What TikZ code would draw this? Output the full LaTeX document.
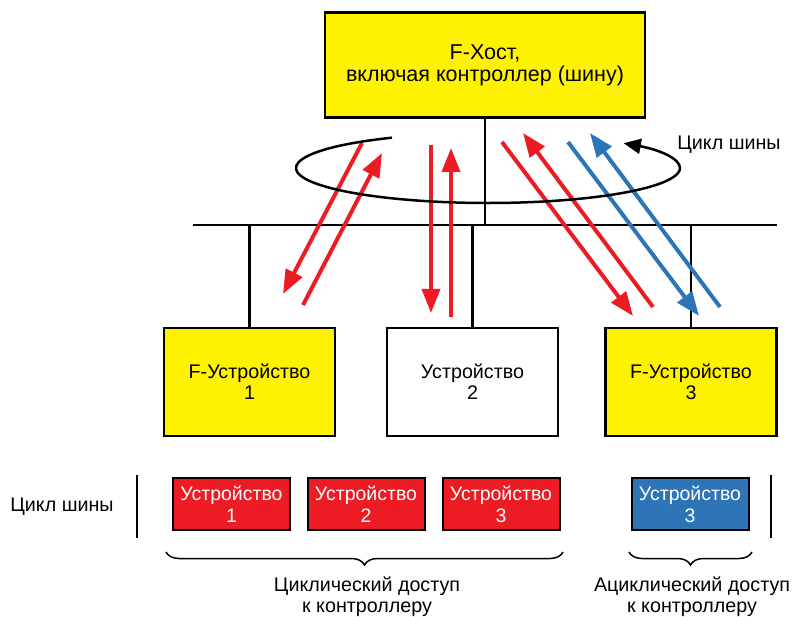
\documentclass[tikz,border=0pt]{standalone}
\usepackage{fontspec}
\setmainfont{Liberation Sans}
\usetikzlibrary{arrows.meta, decorations.pathreplacing}

\definecolor{fyellow}{RGB}{255,242,0}
\definecolor{cycred}{RGB}{237,28,36}
\definecolor{acycblue}{RGB}{46,117,184}

\begin{document}
\begin{tikzpicture}[%
        x = 1pt, y = -1pt,
        > = {Triangle[length = 24pt, width = 18pt]},
        every node/.style = {font = \fontsize{19.7}{21}\selectfont, align = center},
        unit/.style = {
            draw, line width = 2.5pt,
            minimum width = 171pt, minimum height = 108pt
        },
        slot/.style = {
            draw, line width = 2pt, text = white,
            minimum width = 117pt, minimum height = 52pt,
            font = \fontsize{19.5}{22}\selectfont
        },
        msg/.style = {line width = 4pt, ->},
        wire/.style = {line width = 2.5pt},
        under/.style = {
            decorate, decoration = {brace, mirror, amplitude = 13pt},
            line width = 1.5pt
        }
    ]
        \useasboundingbox (0,0) rectangle (793,617);

        % Host and the three devices
        \node[unit, fill = fyellow, minimum width = 320pt, minimum height = 105pt,
              font = \fontsize{21.5}{22}\selectfont]
            (host) at (485,65) {F-Хост,\\включая контроллер (шину)};
        \node[unit, fill = fyellow] (dev1) at (249.5,382) {F-Устройство\\1};
        \node[unit] (dev2) at (472.5,382) {Устройство\\2};
        \node[unit, fill = fyellow] (dev3) at (691,382) {F-Устройство\\3};

        % Bus with the drops
        \coordinate (busL) at (193,225);
        \coordinate (busR) at (777,225);
        \draw[wire] (busL) -- (busR);
        \draw[wire] (host.south) -- (host.south |- busL);
        \foreach \dev in {dev1, dev2, dev3}
            \draw[wire] (\dev.north) -- (\dev.north |- busL);

        % End points of the telegrams
        \coordinate (q1s) at (362,143);
        \coordinate (q1e) at (283,294);
        \coordinate (r1s) at (303,305);
        \coordinate (r1e) at (382,153);
        \coordinate (q2s) at (431,145);
        \coordinate (q2e) at (431,313);
        \coordinate (r2s) at (451,317);
        \coordinate (r2e) at (451,148);
        \coordinate (q3s) at (502,142);
        \coordinate (q3e) at (633,316);
        \coordinate (r3s) at (653,307);
        \coordinate (r3e) at (523,133);
        \coordinate (q4s) at (568,142);
        \coordinate (q4e) at (699,316);
        \coordinate (r4s) at (720,307);
        \coordinate (r4e) at (590,133);

        \begin{scope}[msg, draw = cycred, fill = cycred]
            \draw (q1s) -- (q1e);
            \draw (r1s) -- (r1e);
            \draw (q2s) -- (q2e);
            \draw (r2s) -- (r2e);
            \draw (q3s) -- (q3e);
            \draw (r3s) -- (r3e);
        \end{scope}

        \begin{scope}[msg, draw = acycblue, fill = acycblue]
            \draw (q4s) -- (q4e);
            \draw (r4s) -- (r4e);
        \end{scope}

        % Bus cycle
        \coordinate (orbit) at (488,168);
        \draw[line width = 2.5pt, -{Triangle[length = 17pt, width = 15pt]}]
            (orbit) ++(120:192pt and 35pt)
            arc[start angle = 120, end angle = 405, x radius = 192pt, y radius = 35pt];
        \node (orbitlabel) at (729,145) {Цикл шины};

        % Time line of one bus cycle
        \node (cyclabel) at (62,507) {Цикл шины};
        \coordinate (barL) at (137,475);
        \coordinate (barR) at (771,475);
        \draw[line width = 2pt] (barL) -- ++(0,63);
        \draw[line width = 2pt] (barR) -- ++(0,63);

        \node[slot, fill = cycred] (slot1) at (231.5,504) {Устройство\\1};
        \node[slot, fill = cycred] (slot2) at (366,504) {Устройство\\2};
        \node[slot, fill = cycred] (slot3) at (501,504) {Устройство\\3};
        \node[slot, fill = acycblue] (slot4) at (690,504) {Устройство\\3};

        \coordinate (cycA) at (166,552);
        \coordinate (cycB) at (563,552);
        \coordinate (acycA) at (629,552);
        \coordinate (acycB) at (752,552);
        \draw[under] (cycA) -- (cycB);
        \draw[under] (acycA) -- (acycB);

        \node (cyctext) at (367,597) {Циклический доступ\\к контроллеру};
        \node (acyctext) at (692,597) {Ациклический доступ\\к контроллеру};
    \end{tikzpicture}
\end{document}
